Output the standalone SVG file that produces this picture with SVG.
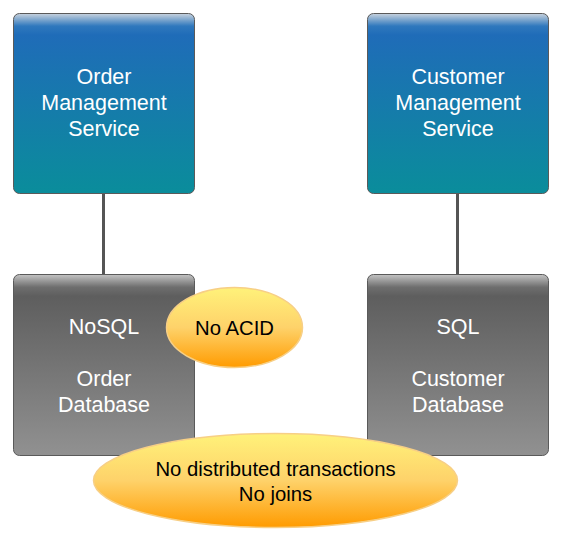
<svg xmlns="http://www.w3.org/2000/svg" width="561" height="539" viewBox="0 0 561 539">
<defs>
<linearGradient id="blue" x1="0" y1="0" x2="0" y2="1">
<stop offset="0" stop-color="#c9d3de"/>
<stop offset="0.07" stop-color="#2f78bd"/>
<stop offset="0.12" stop-color="#1f6cb8"/>
<stop offset="1" stop-color="#0a8d9b"/>
</linearGradient>
<linearGradient id="grey" x1="0" y1="0" x2="0" y2="1">
<stop offset="0" stop-color="#c4c4c4"/>
<stop offset="0.07" stop-color="#6e6e6e"/>
<stop offset="0.12" stop-color="#5e5e5e"/>
<stop offset="1" stop-color="#919191"/>
</linearGradient>
<linearGradient id="yellow" x1="0" y1="0" x2="0" y2="1">
<stop offset="0" stop-color="#fff27a"/>
<stop offset="0.5" stop-color="#fed26a"/>
<stop offset="1" stop-color="#ff9b00"/>
</linearGradient>
</defs>
<style>
.box{stroke:#5a5a5a;stroke-width:1}
.wt{font-family:"Liberation Sans",Arial,sans-serif;font-size:21.5px;fill:#ffffff;text-anchor:middle}
.bt{font-family:"Liberation Sans",Arial,sans-serif;font-size:20.3px;fill:#000000;text-anchor:middle}
.ell{fill:url(#yellow);stroke:#f7cf86;stroke-width:1.5}
.conn{stroke:#555555;stroke-width:3;fill:none}
</style>
<g id="connectors">
<line class="conn" x1="103.5" y1="193" x2="103.5" y2="275"/>
<line class="conn" x1="457.5" y1="193" x2="457.5" y2="275"/>
</g>
<g id="order-service">
<rect class="box" x="13.5" y="13.5" width="181" height="180" rx="6" fill="url(#blue)"/>
<text class="wt" x="104" y="84">Order</text>
<text class="wt" x="104" y="110">Management</text>
<text class="wt" x="104" y="136">Service</text>
</g>
<g id="customer-service">
<rect class="box" x="367.5" y="13.5" width="181" height="180" rx="6" fill="url(#blue)"/>
<text class="wt" x="458" y="84">Customer</text>
<text class="wt" x="458" y="110">Management</text>
<text class="wt" x="458" y="136">Service</text>
</g>
<g id="order-db">
<rect class="box" x="13.5" y="274.5" width="181" height="181" rx="6" fill="url(#grey)"/>
<text class="wt" x="104" y="334">NoSQL</text>
<text class="wt" x="104" y="386">Order</text>
<text class="wt" x="104" y="412">Database</text>
</g>
<g id="customer-db">
<rect class="box" x="367.5" y="274.5" width="181" height="181" rx="6" fill="url(#grey)"/>
<text class="wt" x="458" y="334">SQL</text>
<text class="wt" x="458" y="386">Customer</text>
<text class="wt" x="458" y="412">Database</text>
</g>
<g id="no-acid">
<ellipse class="ell" cx="234.5" cy="327.5" rx="68" ry="40"/>
<text class="bt" x="234.5" y="335">No ACID</text>
</g>
<g id="no-distributed">
<ellipse class="ell" cx="275.5" cy="480.5" rx="182" ry="47"/>
<text class="bt" x="275.5" y="476">No distributed transactions</text>
<text class="bt" x="275.5" y="501">No joins</text>
</g>
</svg>
